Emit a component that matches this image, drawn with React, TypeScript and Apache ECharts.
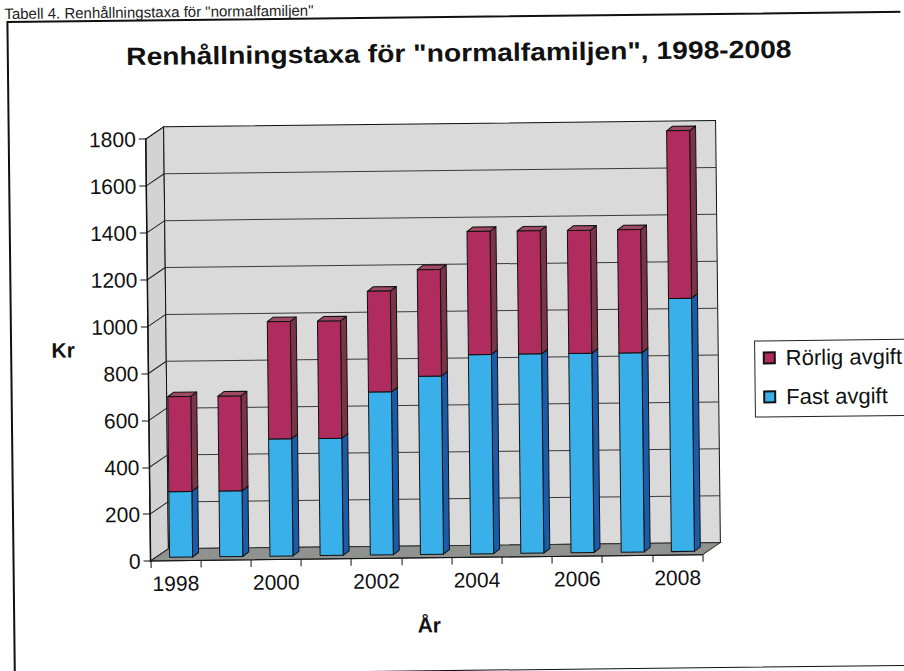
import React, { useEffect, useRef } from "react";
import * as echarts from "echarts";

const YEARS = ["1998", "1999", "2000", "2001", "2002", "2003", "2004", "2005", "2006", "2007", "2008"];
const FAST = [280, 280, 500, 500, 695, 760, 850, 850, 850, 850, 1080];
const RORLIG = [405, 405, 500, 500, 430, 455, 525, 525, 525, 525, 715];
const Y_MIN = 0;
const Y_MAX = 1800;
const Y_STEP = 200;
const Y_TICKS = [0, 200, 400, 600, 800, 1000, 1200, 1400, 1600, 1800];

const TITLE = 'Renhållningstaxa för "normalfamiljen", 1998-2008';
const CAPTION = 'Tabell 4. Renhållningstaxa för "normalfamiljen"';
const NAME_FAST = "Fast avgift";
const NAME_RORLIG = "Rörlig avgift";

const FONT = "'Liberation Sans', Arial, sans-serif";
const WALL_DX = 18;
const WALL_DY = -12;
const BAR_OX = 5.5;
const BAR_OY = -3.5;
const BAR_DX = 6;
const BAR_DY = -4.5;
const BAR_W = 23;

const COLORS = {
  fast: { front: "#39B0EA", side: "#1A5CAA", top: "#4A9BD6" },
  rorlig: { front: "#B02C5E", side: "#7A3446", top: "#9E4A63" },
};

function makeBarRender(kind: "fast" | "rorlig") {
  const c = COLORS[kind];
  return (params: any, api: any) => {
    const i = api.value(0);
    const base = api.value(1);
    const top = api.value(2);
    const p0 = api.coord([i, base]);
    const p1 = api.coord([i, top]);
    const cx = p0[0] + BAR_OX;
    const xl = cx - BAR_W / 2;
    const xr = cx + BAR_W / 2;
    const yb = p0[1] + BAR_OY;
    const yt = p1[1] + BAR_OY;
    const stroke = { stroke: "#111", lineWidth: 1, lineJoin: "round" };
    return {
      type: "group",
      children: [
        {
          type: "polygon",
          shape: { points: [[xr, yt], [xr + BAR_DX, yt + BAR_DY], [xr + BAR_DX, yb + BAR_DY], [xr, yb]] },
          style: { fill: c.side, ...stroke },
        },
        {
          type: "polygon",
          shape: { points: [[xl, yt], [xl + BAR_DX, yt + BAR_DY], [xr + BAR_DX, yt + BAR_DY], [xr, yt]] },
          style: { fill: c.top, ...stroke },
        },
        {
          type: "rect",
          shape: { x: xl, y: yt, width: BAR_W, height: yb - yt },
          style: { fill: c.front, ...stroke },
        },
      ],
    };
  };
}

function renderWalls(params: any, api: any) {
  const cs = params.coordSys;
  const x0 = cs.x;
  const x1 = cs.x + cs.width;
  const yT = cs.y;
  const yB = cs.y + cs.height;
  const children: any[] = [];
  children.push({
    type: "polygon",
    shape: { points: [[x0, yT], [x0 + WALL_DX, yT + WALL_DY], [x0 + WALL_DX, yB + WALL_DY], [x0, yB]] },
    style: { fill: "#D3D3D3", stroke: "#111", lineWidth: 1 },
  });
  children.push({
    type: "rect",
    shape: { x: x0 + WALL_DX, y: yT + WALL_DY, width: x1 - x0, height: yB - yT },
    style: { fill: "#DADADA", stroke: "#111", lineWidth: 1 },
  });
  Y_TICKS.forEach((v) => {
    const y = api.coord([0, v])[1];
    if (v > Y_MIN && v < Y_MAX) {
      children.push({
        type: "line",
        shape: { x1: x0 + WALL_DX, y1: y + WALL_DY, x2: x1 + WALL_DX, y2: y + WALL_DY },
        style: { stroke: "#3a3a3a", lineWidth: 1 },
      });
    }
    children.push({
      type: "line",
      shape: { x1: x0, y1: y, x2: x0 + WALL_DX, y2: y + WALL_DY },
      style: { stroke: "#222", lineWidth: 1 },
    });
  });
  children.push({
    type: "polygon",
    shape: { points: [[x0, yB], [x1, yB], [x1 + WALL_DX, yB + WALL_DY], [x0 + WALL_DX, yB + WALL_DY]] },
    style: { fill: "#8F928F", stroke: "#333", lineWidth: 1 },
  });
  return { type: "group", children };
}

export default function App() {
  const ref = useRef<HTMLDivElement>(null);
  useEffect(() => {
    if (!ref.current) return;
    const chart = echarts.init(ref.current, undefined, { renderer: "svg" });
    const fastData = YEARS.map((_, i) => [i, 0, FAST[i]]);
    const rorData = YEARS.map((_, i) => [i, FAST[i], FAST[i] + RORLIG[i]]);
    chart.setOption({
      animation: false,
      backgroundColor: "#ffffff",
      textStyle: { fontFamily: FONT },
      grid: { left: 148, right: 204, top: 135.6, bottom: 113.4, containLabel: false },
      xAxis: {
        type: "category",
        data: YEARS,
        z: 10,
        axisLine: { show: true, lineStyle: { color: "#111", width: 1 } },
        axisTick: { show: true, interval: 0, length: 7, lineStyle: { color: "#111" } },
        axisLabel: { interval: 1, margin: 12, fontSize: 21, color: "#111", fontFamily: FONT },
        splitLine: { show: false },
      },
      yAxis: {
        type: "value",
        min: Y_MIN,
        max: Y_MAX,
        interval: Y_STEP,
        z: 10,
        axisLine: { show: true, lineStyle: { color: "#111", width: 1.5 } },
        axisTick: { show: true, length: 7, lineStyle: { color: "#111" } },
        axisLabel: { margin: 10, fontSize: 21, color: "#111", fontFamily: FONT, formatter: (v: number) => String(v) },
        splitLine: { show: false },
      },
      legend: {
        data: [NAME_RORLIG, NAME_FAST],
        orient: "vertical",
        left: 754.5,
        top: 344.5,
        padding: [5, 7, 8, 8],
        itemGap: 15,
        itemWidth: 11,
        itemHeight: 11,
        icon: "rect",
        borderColor: "#222",
        borderWidth: 1,
        textStyle: { fontSize: 22, lineHeight: 24, color: "#111", fontFamily: FONT, padding: [0, 0, 0, 6] },
      },
      series: [
        {
          type: "custom",
          name: "walls",
          renderItem: renderWalls,
          data: [[0]],
          z: 1,
          silent: true,
        },
        {
          type: "custom",
          name: NAME_FAST,
          renderItem: makeBarRender("fast"),
          encode: { x: 0, y: [1, 2] },
          data: fastData,
          itemStyle: { color: COLORS.fast.front, borderColor: "#111", borderWidth: 1 },
          z: 3,
        },
        {
          type: "custom",
          name: NAME_RORLIG,
          renderItem: makeBarRender("rorlig"),
          encode: { x: 0, y: [1, 2] },
          data: rorData,
          itemStyle: { color: COLORS.rorlig.front, borderColor: "#111", borderWidth: 1 },
          z: 4,
        },
      ],
      graphic: [
        {
          type: "rect",
          shape: { x: 11, y: 17, width: 1000, height: 654 },
          style: { fill: "none", stroke: "#111", lineWidth: 2 },
          z: 0,
        },
        {
          type: "text",
          x: 8,
          y: 1,
          style: { text: CAPTION, fontSize: 15, fontFamily: FONT, fill: "#222", textVerticalAlign: "top", textAlign: "left" },
        },
        {
          type: "text",
          x: 462,
          y: 53,
          scaleX: 1.13,
          style: { text: TITLE, fontSize: 25, fontWeight: "bold", fontFamily: FONT, fill: "#111", textAlign: "center", textVerticalAlign: "middle" },
        },
        {
          type: "text",
          x: 63,
          y: 345.6,
          style: { text: "Kr", fontSize: 21, fontWeight: "bold", fontFamily: FONT, fill: "#111", textAlign: "center", textVerticalAlign: "middle" },
        },
        {
          type: "text",
          x: 426,
          y: 624.7,
          style: { text: "År", fontSize: 21, fontWeight: "bold", fontFamily: FONT, fill: "#111", textAlign: "center", textVerticalAlign: "middle" },
        },
      ],
    });
    return () => chart.dispose();
  }, []);
  return (
    <div style={{ position: "fixed", left: 0, top: 0, width: 904, height: 671, overflow: "hidden", background: "#fff" }}>
      <div
        ref={ref}
        style={{ width: 904, height: 671, transform: "rotate(-0.65deg)", transformOrigin: "452px 335.5px" }}
      />
    </div>
  );
}
